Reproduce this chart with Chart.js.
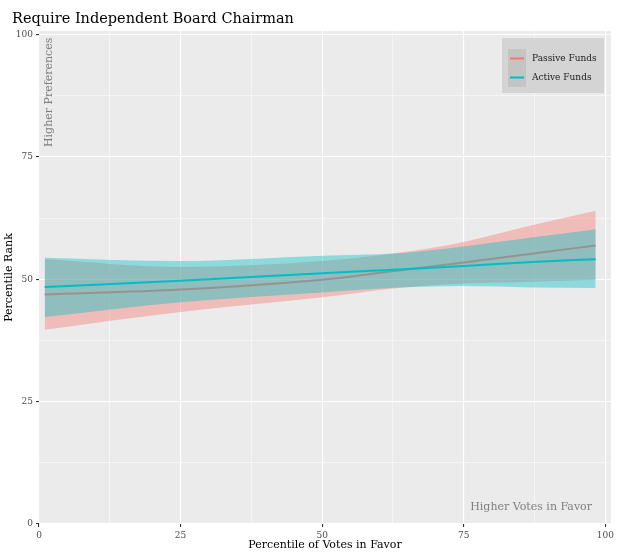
<!DOCTYPE html>
<html>
<head>
<meta charset="utf-8">
<script src="https://cdn.jsdelivr.net/npm/chart.js@4/dist/chart.umd.min.js"></script>
<style>
	body { margin: 0; background: #fff; }
	#wrap { width: 630px; height: 552px; }
</style>
</head>
<body>
<div id="wrap"><canvas id="myChart" width="630" height="552"></canvas></div>
<script>
// percentile of votes in favor (x positions)
var votePct = [1, 25, 50, 63.5, 75, 87, 98.3]

var passiveMean = [46.9, 47.9, 49.9, 51.8, 53.4, 55.2, 56.9]
var passiveUpper = [54.1, 52.5, 53.7, 55.4, 57.6, 61.0, 64.0]
var passiveLower = [39.7, 43.3, 46.3, 48.2, 49.1, 49.5, 49.9]

var activeMean = [48.4, 49.7, 51.2, 52.0, 52.7, 53.5, 54.1]
var activeUpper = [54.4, 53.7, 54.8, 55.3, 56.7, 58.5, 60.2]
var activeLower = [42.3, 45.3, 47.3, 48.3, 48.6, 48.3, 48.2]

var tickLabels = ["0", "25", "50", "75", "100"]
var seriesNames = ["Passive Funds", "Active Funds"]

var RED = "#F8766D"
var TEAL = "#00BFC4"
var FONT = "'DejaVu Serif', serif"

function pts(ys) {
	return ys.map(function (y, i) { return {x: votePct[i], y: y} })
}

function band(ys, order, fillTo, color) {
	return {
		data: pts(ys),
		order: order,
		fill: fillTo,
		backgroundColor: color,
		borderWidth: 0,
		pointRadius: 0,
		cubicInterpolationMode: "monotone",
	}
}

function isMajor(v) {
	return Math.abs(v % 25) < 1e-6
}

function axis(max, isX) {
	return {
		type: "linear",
		min: 0,
		max: max,
		border: {display: false},
		grid: {
			color: "#ffffff",
			lineWidth: function (c) { return isMajor(c.tick.value) ? 1.1 : 0.5 },
			tickColor: function (c) { return isMajor(c.tick.value) ? "#333333" : "rgba(0,0,0,0)" },
			tickLength: 3,
		},
		ticks: {
			stepSize: 12.5,
			includeBounds: false,
			autoSkip: false,
			maxRotation: 0,
			padding: isX ? 3 : 3,
			color: "#4D4D4D",
			font: {family: FONT, size: 9},
			callback: function (v) { return isMajor(v) ? tickLabels[Math.round(v / 25)] : "" },
		},
		afterFit: function (s) {
			if (isX) s.height = 28
			else s.width = 39
		},
	}
}

var ggDecor = {
	id: "ggDecor",
	beforeDraw: function (chart) {
		var a = chart.chartArea
		var c = chart.ctx
		c.save()
		c.fillStyle = "#EBEBEB"
		c.fillRect(a.left, a.top, a.right - a.left, a.bottom - a.top)
		c.restore()
	},
	afterDraw: function (chart) {
		var a = chart.chartArea
		var c = chart.ctx
		c.save()
		// title
		c.fillStyle = "#000"
		c.font = "14.5px " + FONT
		c.textAlign = "left"
		c.textBaseline = "alphabetic"
		c.fillText("Require Independent Board Chairman", 12, 23)

		// axis titles
		c.font = "11px " + FONT
		c.textAlign = "center"
		c.textBaseline = "middle"
		c.fillText("Percentile of Votes in Favor", (a.left + a.right) / 2, 545)
		c.save()
		c.translate(9, (a.top + a.bottom) / 2)
		c.rotate(-Math.PI / 2)
		c.fillText("Percentile Rank", 0, 0)
		c.restore()

		// annotations
		c.fillStyle = "#7F7F7F"
		c.textAlign = "right"
		c.fillText("Higher Votes in Favor", 592, 507)
		c.save()
		c.translate(49, 147)
		c.rotate(-Math.PI / 2)
		c.textAlign = "left"
		c.fillText("Higher Preferences", 0, 0)
		c.restore()

		// legend
		c.fillStyle = "#D4D4D4"
		c.fillRect(502, 38, 102, 55)
		c.fillStyle = "#C4C4C4"
		c.fillRect(508, 49, 18, 38)
		var cols = [RED, TEAL]
		var ys = [58.5, 77.5]
		c.lineWidth = 2
		c.font = "9px " + FONT
		c.textAlign = "left"
		for (var i = 0; i < 2; i++) {
			c.strokeStyle = cols[i]
			c.beginPath()
			c.moveTo(510, ys[i])
			c.lineTo(524, ys[i])
			c.stroke()
			c.fillStyle = "#1A1A1A"
			c.fillText(seriesNames[i], 532, ys[i])
		}
		c.restore()
	},
}

var ctx = document.getElementById("myChart").getContext("2d")
var myChart = new Chart(ctx, {
	type: "line",
	data: {
		datasets: [
			band(passiveUpper, 4, 1, "rgba(248,118,109,0.4)"),
			band(passiveLower, 4, false, "rgba(0,0,0,0)"),
			{
				label: seriesNames[0],
				data: pts(passiveMean),
				order: 3,
				fill: false,
				borderColor: RED,
				borderWidth: 2,
				pointRadius: 0,
				cubicInterpolationMode: "monotone",
			},
			band(activeUpper, 2, 4, "rgba(0,191,196,0.4)"),
			band(activeLower, 2, false, "rgba(0,0,0,0)"),
			{
				label: seriesNames[1],
				data: pts(activeMean),
				order: 1,
				fill: false,
				borderColor: TEAL,
				borderWidth: 2,
				pointRadius: 0,
				cubicInterpolationMode: "monotone",
			},
		],
	},
	options: {
		responsive: false,
		animation: false,
		layout: {padding: {top: 31, right: 19, left: 0, bottom: 0}},
		scales: {
			x: axis(101, true),
			y: axis(100.7, false),
		},
		plugins: {
			legend: {display: false},
			tooltip: {enabled: false},
		},
	},
	plugins: [ggDecor],
})
</script>
</body>
</html>
